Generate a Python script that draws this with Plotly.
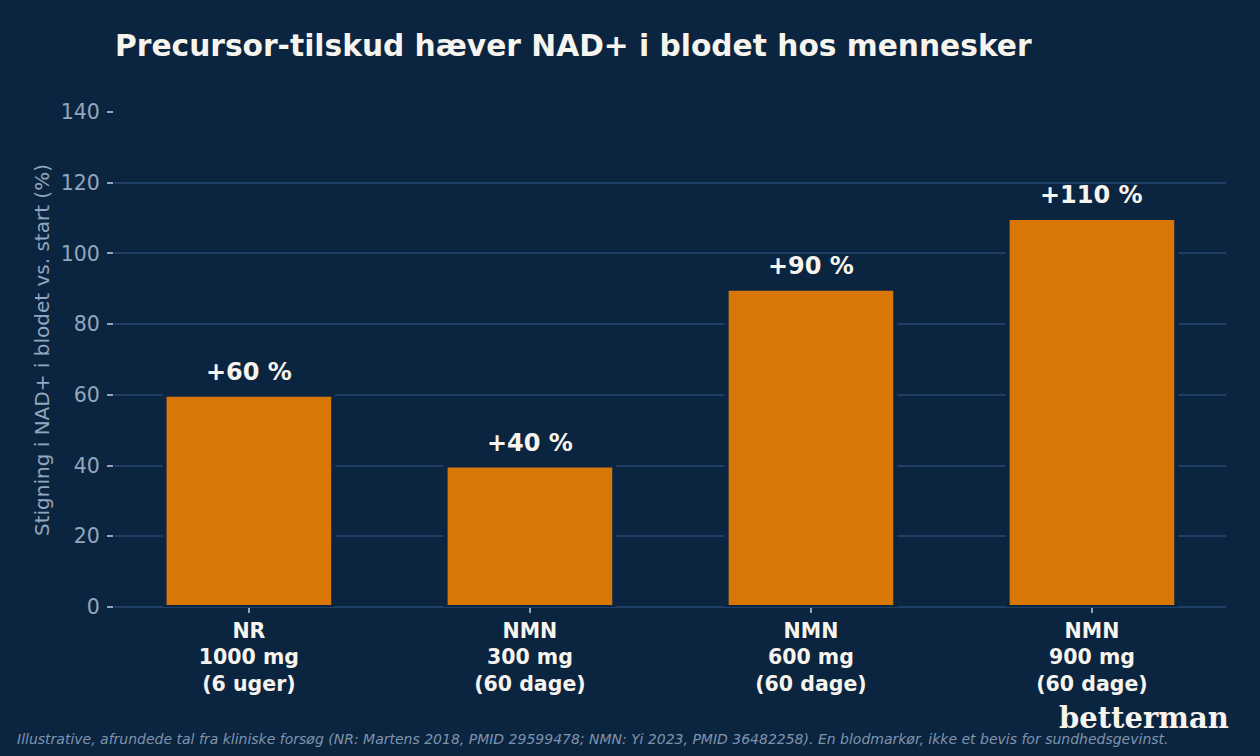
import plotly.graph_objects as go

categories = ["NR<br>1000 mg<br>(6 uger)", "NMN<br>300 mg<br>(60 dage)",
              "NMN<br>600 mg<br>(60 dage)", "NMN<br>900 mg<br>(60 dage)"]
values = [60, 40, 90, 110]
bar_labels = ["+60 %", "+40 %", "+90 %", "+110 %"]
y_ticks = [0, 20, 40, 60, 80, 100, 120, 140]

BG = "#0b2540"
GRID = "#1f3f66"
ORANGE = "#d97706"
MUTED = "#94a6bd"
WHITE = "#f7f4ee"

W, H = 1260, 756
L, R, T, B = 114, 34, 112, 149
pw, ph = W - L - R, H - T - B

def px_x(p):
    return (p - L) / pw

def px_y(p):
    return (H - B - p) / ph

fig = go.Figure()
fig.add_trace(go.Bar(
    x=categories, y=values, width=0.6,
    marker=dict(color=ORANGE, line=dict(color=BG, width=4)),
    hoverinfo="skip",
))

for c, v, t in zip(categories, values, bar_labels):
    fig.add_annotation(x=c, y=v, text=f"<b>{t}</b>", showarrow=False,
                       yanchor="bottom", yshift=7,
                       font=dict(family="DejaVu Sans", size=24, color=WHITE))

fig.add_annotation(xref="paper", yref="paper", x=px_x(42), y=px_y(350),
                   xanchor="center", yanchor="middle", showarrow=False,
                   textangle=-90, text="Stigning i NAD+ i blodet vs. start (%)",
                   font=dict(family="DejaVu Sans", size=20, color=MUTED))
fig.add_annotation(xref="paper", yref="paper", x=px_x(15), y=px_y(739),
                   xanchor="left", yanchor="middle", showarrow=False,
                   text="<i>Illustrative, afrundede tal fra kliniske forsøg (NR: Martens 2018, PMID 29599478; NMN: Yi 2023, PMID 36482258). En blodmarkør, ikke et bevis for sundhedsgevinst.</i>",
                   font=dict(family="DejaVu Sans", size=14, color="#7f93ad"))
fig.add_annotation(xref="paper", yref="paper", x=px_x(1231), y=px_y(718),
                   xanchor="right", yanchor="middle", showarrow=False,
                   text="<b>betterman</b>",
                   font=dict(family="DejaVu Serif", size=29, color=WHITE))

fig.update_layout(
    width=W, height=H,
    paper_bgcolor=BG, plot_bgcolor=BG,
    margin=dict(l=L, r=R, t=T, b=B),
    showlegend=False,
    bargap=0.4,
    title=dict(text="<b>Precursor-tilskud hæver NAD+ i blodet hos mennesker</b>",
               x=115 / W, xanchor="left", xref="container",
               y=1 - 46 / H, yanchor="middle", yref="container",
               font=dict(family="DejaVu Sans", size=29.7, color=WHITE)),
    font=dict(family="DejaVu Sans", color=MUTED),
)
fig.update_xaxes(
    range=[-0.48, 3.477], showgrid=False, zeroline=False, showline=False,
    ticks="outside", ticklen=5, tickwidth=1.5, tickcolor=MUTED,
    tickfont=dict(family="DejaVu Sans", size=20.5, color=WHITE),
    tickprefix="<b>", ticksuffix="</b>",
)
fig.update_yaxes(
    range=[0, 140], tickvals=y_ticks, showgrid=True, gridcolor=GRID, gridwidth=2,
    zeroline=True, zerolinecolor=GRID, zerolinewidth=2, showline=False,
    ticks="outside", ticklen=6, tickwidth=1.5, tickcolor=MUTED,
    ticklabelstandoff=3,
    tickfont=dict(family="DejaVu Sans", size=20.5, color=MUTED),
)

fig.write_html("out.html")
